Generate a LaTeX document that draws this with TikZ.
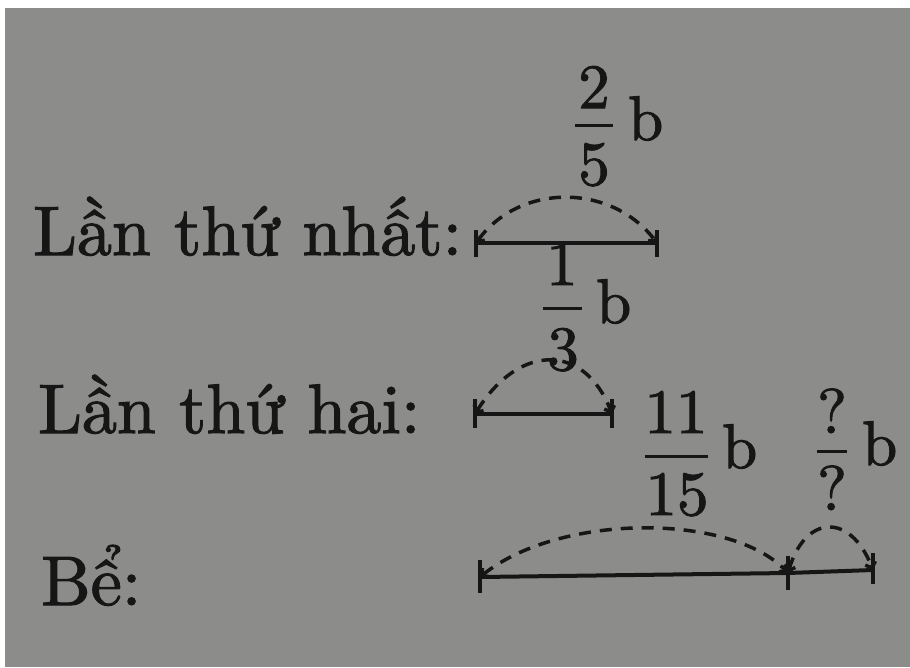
\documentclass[tikz,border=0pt]{standalone}
\usepackage{fontspec}
\setmainfont{lmroman10-regular.otf}[FakeBold=1.6]
\newfontfamily\digitfont{lmroman10-regular.otf}[FakeBold=1.6]
\usetikzlibrary{arrows.meta}
\definecolor{paper}{RGB}{140,140,138}
\definecolor{ink}{RGB}{22,22,22}
\tikzset{
  lbl/.style={anchor=base west, inner sep=0pt, font=\fontsize{70}{84}\selectfont, text=ink},
  num/.style={anchor=base, inner sep=0pt, font=\digitfont\fontsize{63}{74}\selectfont, text=ink},
  bvar/.style={anchor=base west, inner sep=0pt, font=\digitfont\fontsize{63}{74}\selectfont, text=ink},
  seg/.style={draw=ink, line width=4pt},
  tickmark/.style={draw=ink, line width=4pt},
  fracbar/.style={draw=ink, line width=3pt},
  arcline/.style={draw=ink, line width=3.5pt, dash pattern=on 12pt off 9pt,
    {Straight Barb[length=5pt,width=11pt]}-{Straight Barb[length=5pt,width=11pt]}},
}
\begin{document}
\begin{tikzpicture}[x=1pt,y=-1pt]
\useasboundingbox (0,0) rectangle (910,667);
\fill[white] (0,0) rectangle (910,667);
\fill[paper] (5,8) rectangle (910,667);

% labels
\node[lbl] (t1) at (33,255) {Lần thứ nhất:};
\node[lbl] (t2) at (38,433) {Lần thứ hai:};
\node[lbl] (t3) at (41,605) {Bể:};

% line 1
\coordinate (a1) at (476,243);
\coordinate (a2) at (657,243);
\draw[seg] (a1) -- (a2);
\draw[tickmark] (a1) +(0,-13) -- +(0,14);
\draw[tickmark] (a2) +(0,-13) -- +(0,14);
\draw[arcline] (a1) .. controls +(44,-60) and +(-46,-60) .. (a2);

% fraction 2/5 b
\node[num] (n1) at (594,108) {2};
\draw[fracbar] (575,125) -- (613,125);
\node[num] (d1) at (594,185) {5};
\node[bvar] (b1) at (628,140) {b};

% line 2
\coordinate (c1) at (475,414);
\coordinate (c2) at (612,414);
\draw[seg] (c1) -- (c2);
\draw[tickmark] (c1) +(0,-15) -- +(0,14);
\draw[tickmark] (c2) +(0,-15) -- +(0,14);
\draw[arcline] (c1) .. controls +(45,-72) and +(-27,-70) .. (c2);

% fraction 1/3 b
\node[num] (n2) at (562,285) {1};
\draw[fracbar] (543,308) -- (582,308);
\node[num] (d2) at (563,370) {3};
\node[bvar] (b2) at (596,323) {b};

% line 3
\coordinate (e1) at (480,577);
\coordinate (e2) at (788,573);
\coordinate (e3) at (873,570);
\draw[seg] (e1) -- (e2) -- (e3);
\draw[tickmark] (e1) +(0,-17) -- +(0,16);
\draw[tickmark] (e2) +(0,-17) -- +(0,17);
\draw[tickmark] (e3) +(0,-17) -- +(0,14);
\draw[arcline] (e1) .. controls +(80,-64) and +(-58,-60) .. (e2);
\draw[arcline] (e2) .. controls +(17,-58) and +(-23,-58) .. (e3);

% fraction 11/15 b
\node[num] (n3) at (676,433) {11};
\draw[fracbar] (645,456) -- (708,456);
\node[num] (d3) at (677,515) {15};
\node[bvar] (b3) at (722,468) {b};

% fraction ?/? b
\node[num] (n4) at (832,433) {?};
\draw[fracbar] (817,451) -- (847,451);
\node[num] (d4) at (832,510) {?};
\node[bvar] (b4) at (862,465) {b};
\end{tikzpicture}
\end{document}
